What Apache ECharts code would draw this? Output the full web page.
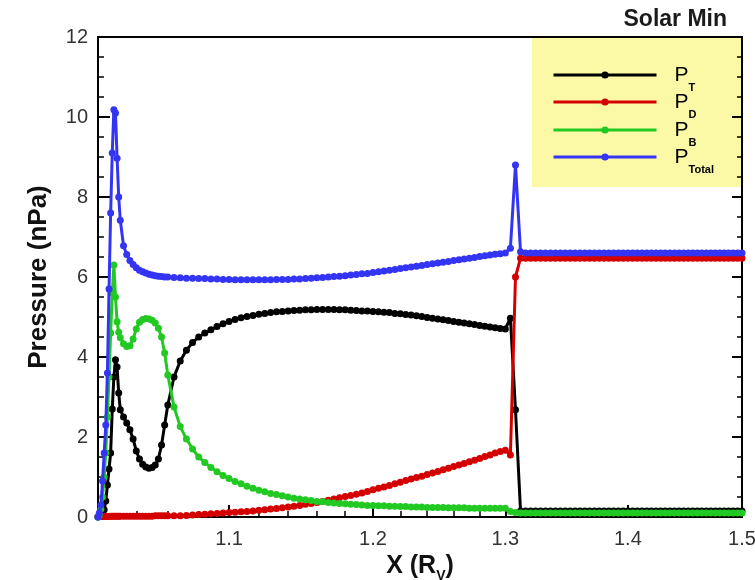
<!DOCTYPE html>
<html><head><meta charset="utf-8">
<script src="https://cdn.jsdelivr.net/npm/echarts@6/dist/echarts.min.js"></script>
<style>html,body{margin:0;padding:0;background:#fff}#c{width:755px;height:580px}</style>
</head><body><div id="c"></div>
<script>
// X positions (R_V)
const xs = [
  1.0162,1.017,1.018,1.019,1.020,1.021,1.022,1.023,1.024,1.025,1.026,1.027,1.028,1.029,1.030,
  1.032,1.034,1.036,1.038,1.040,1.042,1.044,1.046,1.048,1.050,1.052,1.054,1.056,1.058,1.060,
  1.064,1.068,1.072,1.076,1.080,1.084,1.088,1.092,1.096,1.100,
  1.104,1.108,1.112,1.116,1.120,1.124,1.128,1.132,1.136,1.140,
  1.144,1.148,1.152,1.156,1.160,1.164,1.168,1.172,1.176,1.180,
  1.184,1.188,1.192,1.196,1.200,1.204,1.208,1.212,1.216,1.220,
  1.224,1.228,1.232,1.236,1.240,1.244,1.248,1.252,1.256,1.260,
  1.264,1.268,1.272,1.276,1.280,1.284,1.288,1.292,1.296,
  1.300,1.304,1.308,1.312,
  1.316,1.320,1.324,1.328,1.332,1.336,1.340,1.344,1.348,1.352,
  1.356,1.360,1.364,1.368,1.372,1.376,1.380,1.384,1.388,1.392,
  1.396,1.400,1.404,1.408,1.412,1.416,1.420,1.424,1.428,1.432,
  1.436,1.440,1.444,1.448,1.452,1.456,1.460,1.464,1.468,1.472,
  1.476,1.480,1.484,1.488,1.492,1.496,1.500
];
// Thermal pressure P_T
const pT = [
  0.0,0.02,0.05,0.1,0.18,0.4,0.8,1.2,1.6,2.7,3.5,3.93,3.75,3.1,2.68,
  2.5,2.35,2.18,1.95,1.65,1.45,1.32,1.25,1.22,1.24,1.3,1.45,1.8,2.3,2.8,
  3.5,3.9,4.17,4.36,4.5,4.6,4.68,4.76,4.83,4.89,
  4.94,4.98,5.01,5.04,5.07,5.09,5.11,5.13,5.14,5.15,
  5.16,5.17,5.18,5.18,5.19,5.19,5.19,5.19,5.18,5.18,
  5.17,5.16,5.15,5.15,5.14,5.13,5.12,5.11,5.09,5.08,
  5.06,5.05,5.03,5.01,4.99,4.97,4.95,4.93,4.91,4.89,
  4.87,4.85,4.83,4.81,4.79,4.77,4.75,4.73,4.71,
  4.7,4.97,2.68,0.15,
  0.15,0.15,0.15,0.15,0.15,0.15,0.15,0.15,0.15,0.15,
  0.15,0.15,0.15,0.15,0.15,0.15,0.15,0.15,0.15,0.15,
  0.15,0.15,0.15,0.15,0.15,0.15,0.15,0.15,0.15,0.15,
  0.15,0.15,0.15,0.15,0.15,0.15,0.15,0.15,0.15,0.15,
  0.15,0.15,0.15,0.15,0.15,0.15,0.15
];
// Dynamic pressure P_D
const pD = [
  0.01,0.01,0.01,0.01,0.01,0.01,0.01,0.01,0.02,0.02,0.02,0.02,0.02,0.02,0.02,
  0.02,0.02,0.02,0.02,0.02,0.02,0.02,0.02,0.02,0.02,0.03,0.03,0.03,0.03,0.03,
  0.03,0.03,0.04,0.05,0.06,0.07,0.08,0.09,0.1,0.11,
  0.12,0.13,0.14,0.15,0.17,0.18,0.2,0.21,0.23,0.25,
  0.27,0.29,0.32,0.34,0.36,0.39,0.42,0.45,0.48,0.51,
  0.54,0.57,0.6,0.64,0.68,0.72,0.75,0.79,0.83,0.87,
  0.91,0.95,0.99,1.02,1.06,1.1,1.14,1.18,1.22,1.26,
  1.3,1.34,1.38,1.42,1.46,1.51,1.55,1.6,1.64,
  1.67,1.55,6.0,6.47,
  6.47,6.47,6.47,6.47,6.47,6.47,6.47,6.47,6.47,6.47,
  6.47,6.47,6.47,6.47,6.47,6.47,6.47,6.47,6.47,6.47,
  6.47,6.47,6.47,6.47,6.47,6.47,6.47,6.47,6.47,6.47,
  6.47,6.47,6.47,6.47,6.47,6.47,6.47,6.47,6.47,6.47,
  6.47,6.47,6.47,6.47,6.47,6.47,6.47
];
// Magnetic pressure P_B
const pB = [
  0.0,0.05,0.2,0.5,1.0,1.6,2.5,3.5,4.6,5.6,6.3,5.5,4.88,4.62,4.48,
  4.33,4.26,4.28,4.45,4.7,4.87,4.94,4.96,4.95,4.92,4.85,4.72,4.5,4.1,3.55,
  2.75,2.26,1.95,1.7,1.5,1.36,1.24,1.13,1.04,0.96,
  0.89,0.83,0.77,0.72,0.67,0.63,0.59,0.56,0.53,0.5,
  0.47,0.45,0.43,0.41,0.39,0.38,0.36,0.35,0.34,0.33,
  0.32,0.31,0.3,0.29,0.29,0.28,0.28,0.27,0.27,0.26,
  0.26,0.25,0.25,0.25,0.24,0.24,0.24,0.24,0.23,0.23,
  0.23,0.23,0.22,0.22,0.22,0.22,0.22,0.22,0.22,
  0.22,0.14,0.11,0.1,
  0.1,0.1,0.1,0.1,0.1,0.1,0.1,0.1,0.1,0.1,
  0.1,0.1,0.1,0.1,0.1,0.1,0.1,0.1,0.1,0.1,
  0.1,0.1,0.1,0.1,0.1,0.1,0.1,0.1,0.1,0.1,
  0.1,0.1,0.1,0.1,0.1,0.1,0.1,0.1,0.1,0.1,
  0.1,0.1,0.1,0.1,0.1,0.1,0.1
];
// Total pressure P_Total
const pTotal = [
  0.0,0.1,0.3,0.9,1.6,2.3,3.6,5.7,7.6,9.1,10.18,10.1,8.97,8.0,7.42,
  6.78,6.56,6.41,6.31,6.23,6.17,6.13,6.1,6.07,6.05,6.03,6.02,6.01,6.0,6.0,
  5.99,5.98,5.97,5.97,5.96,5.96,5.95,5.95,5.94,5.94,
  5.93,5.93,5.93,5.93,5.93,5.93,5.93,5.94,5.94,5.94,
  5.95,5.95,5.96,5.97,5.98,5.99,6.0,6.01,6.02,6.03,
  6.05,6.06,6.08,6.09,6.11,6.13,6.15,6.17,6.19,6.21,
  6.23,6.25,6.27,6.29,6.31,6.33,6.35,6.37,6.39,6.41,
  6.43,6.45,6.47,6.49,6.51,6.53,6.55,6.57,6.58,
  6.6,6.72,8.8,6.63,
  6.6,6.6,6.6,6.6,6.6,6.6,6.6,6.6,6.6,6.6,
  6.6,6.6,6.6,6.6,6.6,6.6,6.6,6.6,6.6,6.6,
  6.6,6.6,6.6,6.6,6.6,6.6,6.6,6.6,6.6,6.6,
  6.6,6.6,6.6,6.6,6.6,6.6,6.6,6.6,6.6,6.6,
  6.6,6.6,6.6,6.6,6.6,6.6,6.6
];
const xMajorTicks = [1.1, 1.2, 1.3, 1.4, 1.5];
const xMinorTicks = [1.02,1.04,1.06,1.08,1.12,1.14,1.16,1.18,1.22,1.24,1.26,1.28,1.32,1.34,1.36,1.38,1.42,1.44,1.46,1.48];
const seriesNames = ['P_T', 'P_D', 'P_B', 'P_Total'];
const seriesSubs = ['T', 'D', 'B', 'Total'];
const seriesData = [pT, pD, pB, pTotal];
const seriesColors = ['#000000', '#d40000', '#22c922', '#3434f4'];
const legendCenters = [78, 105, 133, 160];

const FF = '"Liberation Sans", Arial, sans-serif';
const chart = echarts.init(document.getElementById('c'), null, {renderer: 'canvas'});

const legends = seriesNames.map((n, i) => ({
  data: [n],
  left: 552,
  top: legendCenters[i] - 13,
  padding: 0,
  itemWidth: 103,
  itemHeight: 9,
  selectedMode: false,
  lineStyle: {width: 3},
  formatter: () => '{p|P}{s|' + seriesSubs[i] + '}',
  textStyle: {
    rich: {
      p: {fontSize: 21, lineHeight: 20, fontFamily: FF, color: '#000', verticalAlign: 'top', padding: [0, 0, 0, 13]},
      s: {fontSize: 11, lineHeight: 10, fontFamily: FF, fontWeight: 'bold', color: '#000', verticalAlign: 'top', padding: [17, 0, 0, 0]}
    }
  }
}));

const option = {
  animation: false,
  backgroundColor: '#fff',
  title: {
    text: 'Solar Min', right: 28, top: 8, padding: 0,
    textStyle: {fontSize: 23, fontWeight: 'bold', color: '#1a1a1a', fontFamily: FF}
  },
  legend: legends,
  graphic: [{
    type: 'rect', z: -1,
    shape: {x: 532, y: 38, width: 209, height: 149},
    style: {fill: '#fcf9a6'}
  }],
  grid: {left: 98, right: 13, top: 37, bottom: 63, show: true, borderColor: '#000', borderWidth: 2,
         backgroundColor: 'transparent', containLabel: false, outerBoundsMode: 'none'},
  xAxis: [{
    type: 'log', logBase: 10, min: 1.0162, max: 1.5, position: 'bottom',
    axisLine: {show: true, lineStyle: {color: '#000', width: 2}},
    axisTick: {show: true, inside: true, length: 12, lineStyle: {color: '#000', width: 2}, customValues: xMajorTicks},
    axisLabel: {customValues: xMajorTicks, formatter: v => Number(v).toFixed(1), fontSize: 20, color: '#333', margin: 12, fontFamily: FF},
    splitLine: {show: false},
    name: '{a|X (R}{b|V}{a|)}', nameLocation: 'middle', nameGap: 32,
    nameTextStyle: {
      rich: {
        a: {fontSize: 25, lineHeight: 25, fontWeight: 'bold', fontFamily: FF, color: '#111', verticalAlign: 'top'},
        b: {fontSize: 14, lineHeight: 14, fontWeight: 'bold', fontFamily: FF, color: '#111', verticalAlign: 'top', padding: [15, 0, 0, 0]}
      }
    }
  }, {
    type: 'log', logBase: 10, min: 1.0162, max: 1.5, position: 'bottom',
    axisLine: {show: false},
    axisTick: {show: true, inside: true, length: 6, lineStyle: {color: '#000', width: 1.5}, customValues: xMinorTicks},
    axisLabel: {show: false},
    splitLine: {show: false}
  }],
  yAxis: [{
    type: 'value', min: 0, max: 12, interval: 2, position: 'left',
    axisLine: {show: true, lineStyle: {color: '#000', width: 2}},
    axisTick: {show: true, inside: true, length: 12, lineStyle: {color: '#000', width: 2}},
    minorTick: {show: true, splitNumber: 4, length: 6, lineStyle: {color: '#000', width: 1.5}},
    axisLabel: {fontSize: 20, color: '#333', margin: 10, fontFamily: FF},
    splitLine: {show: false},
    name: 'Pressure (nPa)', nameLocation: 'middle', nameGap: 46,
    nameTextStyle: {fontSize: 26, fontWeight: 'bold', fontFamily: FF, color: '#111'}
  }, {
    type: 'value', min: 0, max: 12, interval: 2, position: 'right',
    axisLine: {show: true, lineStyle: {color: '#000', width: 2}},
    axisTick: {show: true, inside: true, length: 10, lineStyle: {color: '#000', width: 2}},
    minorTick: {show: true, splitNumber: 4, length: 5, lineStyle: {color: '#000', width: 1.5}},
    axisLabel: {show: false},
    splitLine: {show: false}
  }],
  series: seriesNames.map((n, i) => ({
    name: n, type: 'line', xAxisIndex: 0, yAxisIndex: 0,
    symbol: 'circle', symbolSize: 7, showSymbol: true,
    color: seriesColors[i],
    lineStyle: {width: 3, color: seriesColors[i]},
    itemStyle: {color: seriesColors[i]},
    emphasis: {disabled: true},
    z: 2 + i,
    data: xs.map((x, k) => [x, seriesData[i][k]])
  }))
};
chart.setOption(option);
</script>
</body></html>
